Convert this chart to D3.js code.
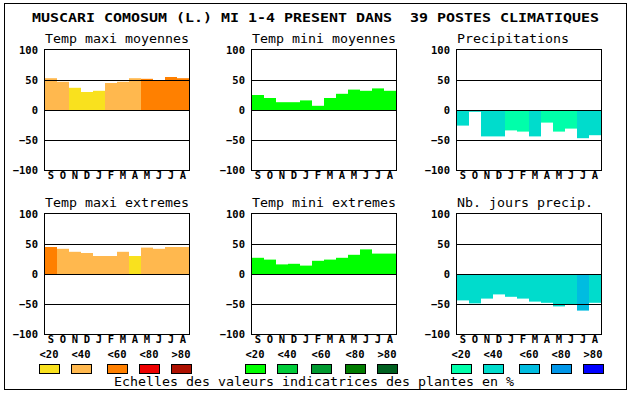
<!DOCTYPE html>
<html>
<head>
<meta charset="utf-8">
<script src="https://cdn.jsdelivr.net/npm/d3@7"></script>
<style>
  body { margin: 0; background: #fff; }
  svg text { font-family: "DejaVu Sans Mono", monospace; fill: #000; white-space: pre; }
  .tick-lab { font-size: 10.5px; font-weight: bold; }
</style>
</head>
<body>
<svg id="chart" width="630" height="394"></svg>
<script>
const title = "MUSCARI COMOSUM (L.) MI 1-4 PRESENT DANS  39 POSTES CLIMATIQUES"
const months = ["S", "O", "N", "D", "J", "F", "M", "A", "M", "J", "J", "A"]
const yTicks = [100, 50, 0, -50, -100]
const legendLabels = ["<20", "<40", "<60", "<80", ">80"]
const footer = "Echelles des valeurs indicatrices des plantes en %"

const warmColors = ["#f9e11e", "#ffb84e", "#ff8000", "#ee0000", "#ad1000"]
const greenColors = ["#00ff00", "#00cc3a", "#009a30", "#007c00", "#006020"]
const blueColors = ["#00ffaa", "#00dccc", "#00bce0", "#0096e8", "#0000ff"]

// values per month and colour class (0..4) per month
const maxiMoy = [53, 47, 37, 30, 32, 45, 47, 53, 52, 50, 55, 53]
const maxiMoyClass = [1, 1, 0, 0, 0, 1, 1, 1, 2, 2, 2, 2]
const miniMoy = [25, 20, 13, 13, 16, 7, 20, 27, 34, 32, 36, 32]
const miniMoyClass = [0, 0, 0, 0, 0, 0, 0, 0, 0, 0, 0, 0]
const precip = [-26, -3, -44, -44, -34, -36, -44, -21, -36, -31, -47, -42]
const precipClass = [1, 1, 1, 1, 0, 0, 1, 0, 0, 0, 1, 1]
const maxiExt = [45, 42, 37, 35, 30, 30, 37, 30, 44, 42, 45, 45]
const maxiExtClass = [2, 1, 1, 1, 1, 1, 1, 0, 1, 1, 1, 1]
const miniExt = [27, 24, 16, 17, 14, 22, 24, 27, 32, 41, 34, 34]
const miniExtClass = [0, 0, 0, 0, 0, 0, 0, 0, 0, 0, 0, 0]
const joursPrecip = [-44, -49, -41, -34, -38, -41, -46, -48, -54, -50, -61, -48]
const joursPrecipClass = [1, 1, 1, 1, 1, 1, 1, 1, 1, 1, 2, 1]

const panels = [
  { name: "Temp maxi moyennes", values: maxiMoy, cls: maxiMoyClass, palette: warmColors, col: 0, row: 0 },
  { name: "Temp mini moyennes", values: miniMoy, cls: miniMoyClass, palette: greenColors, col: 1, row: 0 },
  { name: "Precipitations", values: precip, cls: precipClass, palette: blueColors, col: 2, row: 0 },
  { name: "Temp maxi extremes", values: maxiExt, cls: maxiExtClass, palette: warmColors, col: 0, row: 1 },
  { name: "Temp mini extremes", values: miniExt, cls: miniExtClass, palette: greenColors, col: 1, row: 1 },
  { name: "Nb. jours precip.", values: joursPrecip, cls: joursPrecipClass, palette: blueColors, col: 2, row: 1 },
]

const svg = d3.select("#chart")
const colX = [45, 252, 457]
const rowY = [50, 214]
const pw = 144, ph = 120

// outer frame
svg.append("rect")
  .attr("x", 4.5).attr("y", 3.5)
  .attr("width", 622).attr("height", 386)
  .attr("fill", "none").attr("stroke", "#000")

svg.append("text")
  .attr("x", 32).attr("y", 22)
  .attr("textLength", 567).attr("lengthAdjust", "spacingAndGlyphs")
  .style("font-size", "13px").style("font-weight", "bold")
  .text(title)

const x = d3.scaleBand().domain(d3.range(12)).range([0, pw])
const y = d3.scaleLinear().domain([-100, 100]).range([ph, 0])

panels.forEach((p) => {
  const g = svg.append("g")
    .attr("transform", `translate(${colX[p.col]}, ${rowY[p.row]})`)

  g.append("text")
    .attr("x", 0).attr("y", -7)
    .attr("textLength", p.name.length * 8).attr("lengthAdjust", "spacingAndGlyphs")
    .style("font-size", "12px")
    .text(p.name)

  // bars
  g.selectAll("rect.bar")
    .data(p.values)
    .join("rect")
    .classed("bar", true)
    .attr("x", (d, i) => x(i))
    .attr("width", x.bandwidth())
    .attr("y", (d) => y(Math.max(0, d)))
    .attr("height", (d) => Math.abs(y(d) - y(0)))
    .attr("fill", (d, i) => p.palette[p.cls[i]])

  // grid lines
  g.selectAll("line.grid")
    .data([50, 0, -50])
    .join("line")
    .classed("grid", true)
    .attr("x1", 0).attr("x2", pw)
    .attr("y1", (d) => Math.round(y(d)) + 0.5)
    .attr("y2", (d) => Math.round(y(d)) + 0.5)
    .attr("stroke", "#000")

  g.append("rect")
    .attr("x", -0.5).attr("y", -0.5)
    .attr("width", pw + 1).attr("height", ph + 1)
    .attr("fill", "none").attr("stroke", "#000")

  // y axis labels
  const yAxis = d3.axisLeft(y).tickValues(yTicks).tickSize(0).tickPadding(7)
  const ya = g.append("g").call(yAxis)
  ya.select(".domain").remove()
  ya.selectAll("text").classed("tick-lab", true).attr("fill", "#000")

  // month labels
  const xAxis = d3.axisBottom(x).tickSize(0).tickPadding(2).tickFormat((i) => months[i])
  const xa = g.append("g").attr("transform", `translate(0, ${ph})`).call(xAxis)
  xa.select(".domain").remove()
  xa.selectAll("text").classed("tick-lab", true).attr("fill", "#000")
})

// legend
const legendX = [[39, 71, 107, 139, 171], [245, 277, 311, 345, 377], [451, 483, 519, 551, 583]]
const palettes = [warmColors, greenColors, blueColors]
palettes.forEach((pal, k) => {
  const lg = svg.append("g")
  lg.selectAll("text")
    .data(legendLabels)
    .join("text")
    .classed("tick-lab", true)
    .attr("x", (d, i) => legendX[k][i] + 10)
    .attr("y", 358)
    .attr("text-anchor", "middle")
    .text((d) => d)
  lg.selectAll("rect")
    .data(pal)
    .join("rect")
    .attr("x", (d, i) => legendX[k][i] + 0.5)
    .attr("y", 364.5)
    .attr("width", 20).attr("height", 9)
    .attr("fill", (d) => d)
    .attr("stroke", "#000")
})

svg.append("text")
  .attr("x", 114).attr("y", 386)
  .attr("textLength", footer.length * 8).attr("lengthAdjust", "spacingAndGlyphs")
  .style("font-size", "12px")
  .text(footer)
</script>
</body>
</html>
